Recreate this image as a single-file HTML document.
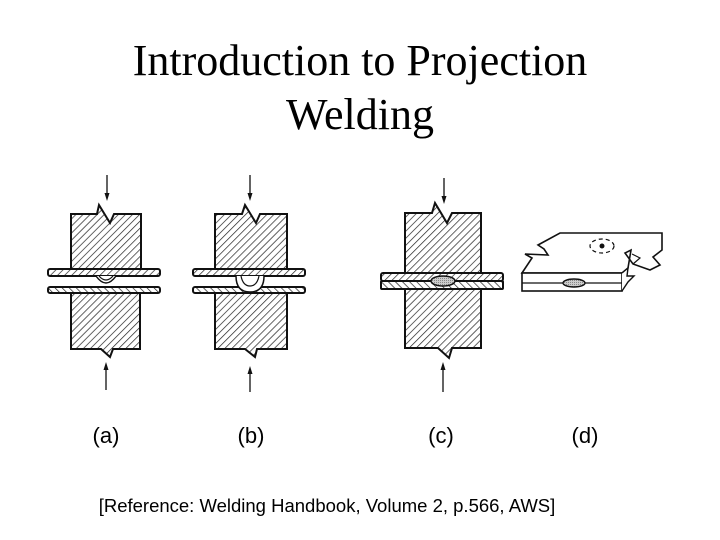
<!DOCTYPE html>
<html><head><style>
html,body{margin:0;padding:0;background:#fff}
svg{display:block}
</style></head><body>
<svg width="720" height="540" viewBox="0 0 720 540" xmlns="http://www.w3.org/2000/svg">
<defs>
<pattern id="h" patternUnits="userSpaceOnUse" width="5" height="5" patternTransform="rotate(45)">
<rect width="5" height="5" fill="#fff"/><line x1="0" y1="0" x2="0" y2="5" stroke="#222" stroke-width="1.4"/>
</pattern>
<pattern id="h2" patternUnits="userSpaceOnUse" width="5" height="5" patternTransform="rotate(-45)">
<rect width="5" height="5" fill="#fff"/><line x1="0" y1="0" x2="0" y2="5" stroke="#222" stroke-width="1.4"/>
</pattern>
<pattern id="dots" patternUnits="userSpaceOnUse" width="2" height="2">
<rect width="2" height="2" fill="#ccc"/><rect width="1" height="1" fill="#888"/>
</pattern>
</defs>
<g font-family="Liberation Serif, serif" font-size="44" text-anchor="middle" fill="#000">
<text x="360" y="75">Introduction to Projection</text>
<text x="360" y="129">Welding</text>
</g>

<g stroke="#111" stroke-width="2" stroke-linejoin="miter">
<!-- (a) -->
<path d="M71,214 L97,214 L99,205 L110,223 L114,214 L141,214 L141,269 L71,269 Z" fill="url(#h)"/>
<path d="M71,293 L140,293 L140,349 L113,349 L110,357 L101,349 L71,349 Z" fill="url(#h)"/>
<rect x="48" y="269" width="112" height="7" rx="2" fill="url(#h)"/>
<rect x="48" y="287" width="112" height="6" rx="2" fill="url(#h2)"/>
<path d="M96,276 Q106,290 116,276" fill="#fff" stroke-width="1.5"/>
<path d="M99,276 Q106,284 113,276" fill="none" stroke-width="1.2"/>
<line x1="107" y1="175" x2="107" y2="195" stroke-width="1.3"/>
<path d="M104.5,193 L107,201 L109.5,193 Z" fill="#111" stroke="none"/>
<line x1="106" y1="390" x2="106" y2="368" stroke-width="1.3"/>
<path d="M103.5,370 L106,362 L108.5,370 Z" fill="#111" stroke="none"/>

<!-- (b) -->
<path d="M215,214 L242,214 L245,205 L256,223 L260,214 L287,214 L287,269 L215,269 Z" fill="url(#h)"/>
<path d="M215,293 L287,293 L287,349 L257,349 L255,357 L245,349 L215,349 Z" fill="url(#h)"/>
<rect x="193" y="269" width="112" height="7" rx="2" fill="url(#h)"/>
<rect x="193" y="287" width="112" height="6" rx="2" fill="url(#h2)"/>
<path d="M236,276 Q236,292 250,292 Q264,292 264,276" fill="#fff" stroke-width="1.5"/>
<path d="M241,276 Q243,286 250,286 Q257,286 259,276" fill="none" stroke-width="1.2"/>
<line x1="250" y1="175" x2="250" y2="195" stroke-width="1.3"/>
<path d="M247.5,193 L250,201 L252.5,193 Z" fill="#111" stroke="none"/>
<line x1="250" y1="392" x2="250" y2="372" stroke-width="1.3"/>
<path d="M247.5,374 L250,366 L252.5,374 Z" fill="#111" stroke="none"/>

<!-- (c) -->
<path d="M405,213 L432,213 L435,203 L447,223 L452,213 L481,213 L481,273 L405,273 Z" fill="url(#h)"/>
<path d="M405,289 L481,289 L481,348 L452,348 L449,358 L438,348 L405,348 Z" fill="url(#h)"/>
<rect x="381" y="273" width="122" height="8" rx="2" fill="url(#h)"/>
<rect x="381" y="281" width="122" height="8" rx="1" fill="url(#h2)"/>
<ellipse cx="443" cy="281" rx="12" ry="5" fill="url(#dots)" stroke-width="1.5"/>
<line x1="444" y1="178" x2="444" y2="198" stroke-width="1.3"/>
<path d="M441.5,196 L444,204 L446.5,196 Z" fill="#111" stroke="none"/>
<line x1="443" y1="392" x2="443" y2="368" stroke-width="1.3"/>
<path d="M440.5,370 L443,362 L445.5,370 Z" fill="#111" stroke="none"/>

<!-- (d) -->
<path d="M522,273 L532,258 L525,254 L548,255 L544,249 L538,245 L560,233 L662,233 L662,250 L653,257 L660,265 L650,270 L633,264 L625,253 L631,250 L628,268 L622,273 Z" fill="#fff" stroke-width="1.6"/>
<path d="M633,264 L640,258 L632,254" fill="none" stroke-width="1.2"/>
<rect x="522" y="273" width="100" height="18" fill="#fff" stroke-width="1.6"/>
<line x1="522" y1="283" x2="622" y2="283" stroke-width="1.2"/>
<path d="M622,273 L628,268 L627,276 L634,276 L628,282 L622,291" fill="#fff" stroke-width="1.4"/>
<ellipse cx="574" cy="283" rx="11" ry="4" fill="url(#dots)" stroke-width="1.4"/>
<ellipse cx="602" cy="246" rx="12" ry="7" fill="none" stroke-width="1.2" stroke-dasharray="4 3"/>
<circle cx="602" cy="246" r="2.5" fill="#111" stroke="none"/>
</g>

<g font-family="Liberation Sans, sans-serif" font-size="22" text-anchor="middle" fill="#000">
<text x="106" y="443">(a)</text>
<text x="251" y="443">(b)</text>
<text x="441" y="443">(c)</text>
<text x="585" y="443">(d)</text>
</g>
<text x="327" y="512" font-family="Liberation Sans, sans-serif" font-size="18.5" text-anchor="middle">[Reference:  Welding Handbook, Volume 2, p.566, AWS]</text>
</svg>
</body></html>
